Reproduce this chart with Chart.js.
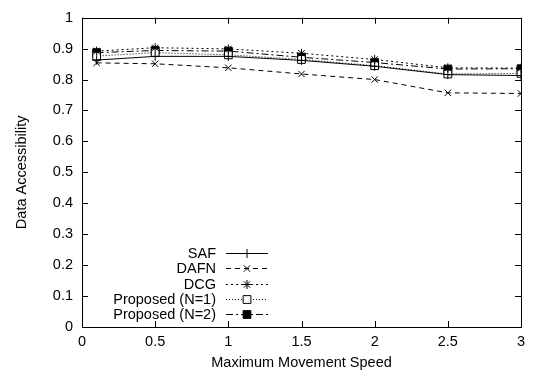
<!DOCTYPE html>
<html>
<head>
<meta charset="utf-8">
<script src="https://cdn.jsdelivr.net/npm/chart.js@4/dist/chart.umd.min.js"></script>
<style>
  html, body { margin: 0; padding: 0; background: #fff; }
  #wrap { width: 533px; height: 375px; }
</style>
</head>
<body>
<div id="wrap"><canvas id="chart" width="533" height="375"></canvas></div>
<script>
const speeds = [0.1, 0.5, 1, 1.5, 2, 2.5, 3];
const saf = [0.863, 0.875, 0.875, 0.862, 0.843, 0.816, 0.813];
const dafn = [0.854, 0.851, 0.838, 0.818, 0.800, 0.757, 0.755];
const dcg = [0.892, 0.903, 0.899, 0.885, 0.865, 0.838, 0.837];
const propN1 = [0.876, 0.887, 0.880, 0.865, 0.845, 0.818, 0.820];
const propN2 = [0.887, 0.894, 0.892, 0.872, 0.855, 0.834, 0.835];
const xTicks = [0, 0.5, 1, 1.5, 2, 2.5, 3];
const yTicks = [0, 0.1, 0.2, 0.3, 0.4, 0.5, 0.6, 0.7, 0.8, 0.9, 1];

const font = { family: '"Liberation Sans", Arial, sans-serif', size: 14.5 };

function pts(vals) {
    return vals.map((v, i) => ({ x: speeds[i], y: v }));
}

const seriesDefs = [
    { label: 'SAF', data: saf, dash: [], style: 'cross', fill: '#000', radius: 4.5 },
    { label: 'DAFN', data: dafn, dash: [5, 4], style: 'crossRot', fill: '#000', radius: 4.5 },
    { label: 'DCG', data: dcg, dash: [2, 3], style: 'star', fill: '#000', radius: 4.5 },
    { label: 'Proposed (N=1)', data: propN1, dash: [1, 2], style: 'rect', fill: '#fff', radius: 5.5 },
    { label: 'Proposed (N=2)', data: propN2, dash: [7, 3, 2, 3], style: 'rect', fill: '#000', radius: 5.5 }
];

// gnuplot-style frame with inward ticks
const framePlugin = {
    id: 'frame',
    afterDraw(chart) {
        const ctx = chart.ctx;
        const a = chart.chartArea;
        const xs = chart.scales.x, ys = chart.scales.y;
        ctx.save();
        ctx.strokeStyle = '#000';
        ctx.lineWidth = 1;
        ctx.setLineDash([]);
        ctx.strokeRect(Math.round(a.left) + 0.5, Math.round(a.top) + 0.5,
            Math.round(a.right - a.left), Math.round(a.bottom - a.top));
        const len = 6;
        ctx.beginPath();
        xTicks.forEach(t => {
            const px = Math.round(xs.getPixelForValue(t)) + 0.5;
            ctx.moveTo(px, a.bottom); ctx.lineTo(px, a.bottom - len);
            ctx.moveTo(px, a.top); ctx.lineTo(px, a.top + len);
        });
        yTicks.forEach(t => {
            const py = Math.round(ys.getPixelForValue(t)) + 0.5;
            ctx.moveTo(a.left, py); ctx.lineTo(a.left + len, py);
            ctx.moveTo(a.right, py); ctx.lineTo(a.right - len, py);
        });
        ctx.stroke();
        ctx.restore();
    }
};

// legend drawn inside the plot, text right-aligned left of the sample
const keyPlugin = {
    id: 'key',
    afterDraw(chart) {
        const ctx = chart.ctx;
        const textRight = 216, lineL = 226, lineR = 268, top = 253, step = 15.3;
        ctx.save();
        ctx.font = font.size + 'px ' + font.family;
        ctx.textAlign = 'right';
        ctx.textBaseline = 'middle';
        chart.data.datasets.forEach((ds, i) => {
            const y = Math.round(top + i * step);
            ctx.fillStyle = '#000';
            ctx.fillText(ds.label, textRight, y + 1);
            ctx.strokeStyle = '#000';
            ctx.lineWidth = 1;
            ctx.setLineDash(ds.borderDash);
            ctx.beginPath();
            ctx.moveTo(lineL, y + 0.5);
            ctx.lineTo(lineR, y + 0.5);
            ctx.stroke();
            ctx.setLineDash([]);
            ctx.fillStyle = ds.pointBackgroundColor;
            Chart.helpers.drawPoint(ctx, {
                pointStyle: ds.pointStyle,
                radius: ds.pointRadius,
                borderWidth: 1,
                rotation: 0
            }, (lineL + lineR) / 2, y + 0.5);
        });
        ctx.restore();
    }
};

function buildDatasets() {
    return seriesDefs.map(s => ({
        label: s.label,
        data: pts(s.data),
        borderColor: '#000',
        borderWidth: 1,
        borderDash: s.dash,
        pointStyle: s.style,
        pointRadius: s.radius,
        pointBorderColor: '#000',
        pointBackgroundColor: s.fill,
        pointBorderWidth: 1,
        fill: false,
        tension: 0
    }));
}

new Chart(document.getElementById('chart').getContext('2d'), {
    type: 'line',
    data: { datasets: buildDatasets() },
    plugins: [framePlugin, keyPlugin],
    options: {
        responsive: false,
        animation: false,
        layout: { padding: { top: 14, right: 12, left: 0, bottom: 0 } },
        plugins: { legend: { display: false }, tooltip: { enabled: false } },
        scales: {
            x: {
                type: 'linear',
                min: 0, max: 3,
                afterBuildTicks: s => { s.ticks = xTicks.map(v => ({ value: v })); },
                afterFit: s => { s.height = 48; },
                grid: { display: false, drawTicks: false },
                border: { display: false },
                ticks: { color: '#000', font, padding: 6, maxRotation: 0, callback: v => String(v) },
                title: { display: true, text: 'Maximum Movement Speed', color: '#000', font, padding: { top: 4, bottom: 3 } }
            },
            y: {
                type: 'linear',
                min: 0, max: 1,
                afterBuildTicks: s => { s.ticks = yTicks.map(v => ({ value: v })); },
                afterFit: s => { s.width = 82; },
                grid: { display: false, drawTicks: false },
                border: { display: false },
                ticks: { color: '#000', font, padding: 9, callback: v => String(v) },
                title: { display: true, text: 'Data Accessibility', color: '#000', font, padding: { top: 13, bottom: 0 } }
            }
        }
    }
});
</script>
</body>
</html>
